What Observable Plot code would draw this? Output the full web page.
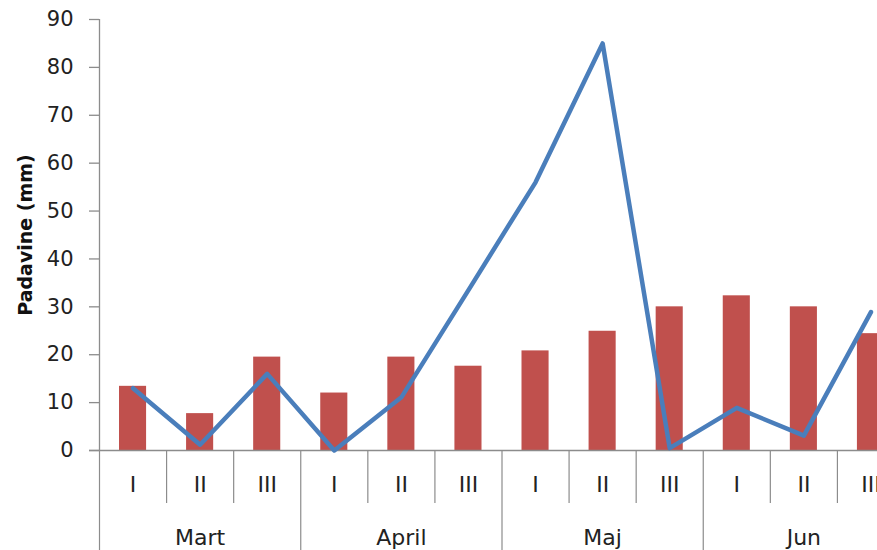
<!DOCTYPE html>
<html>
<head>
<meta charset="utf-8">
<script src="https://cdn.jsdelivr.net/npm/d3@7"></script>
<script src="https://cdn.jsdelivr.net/npm/@observablehq/plot@0.6"></script>
<style>
  html, body { margin: 0; padding: 0; background: #fff; overflow: hidden; width: 877px; height: 550px; }
  #chart { width: 877px; height: 550px; overflow: hidden; }
  #chart svg { max-width: none !important; width: 904px !important; height: 550px !important; }
</style>
</head>
<body>
<div id="chart"></div>
<script>
const months = ["Mart", "April", "Maj", "Jun"];
const decades = ["I", "II", "III"];
const barSeries = [13.4, 7.7, 19.5, 12.0, 19.5, 17.6, 20.8, 24.9, 30.0, 32.3, 30.0, 24.4];
const lineSeries = [13.0, 1.2, 16.0, 0.0, 11.1, 33.5, 56.0, 85.0, 0.5, 8.9, 3.1, 28.9];
const yTicks = [0, 10, 20, 30, 40, 50, 60, 70, 80, 90];
const yTitle = "Padavine (mm)";

const rows = months.flatMap((m, mi) => decades.map((d, di) => {
  const i = mi * decades.length + di;
  return {i, month: m, decade: d, bar: barSeries[i], line: lineSeries[i]};
}));
const monthRows = months.map((m, mi) => ({i: mi * decades.length, month: m}));
const bounds = d3.range(0, rows.length + 1);
const monthBounds = bounds.filter(b => b % decades.length === 0);
const decadeBounds = bounds.filter(b => b % decades.length !== 0);

const gray = "#8c8c8c";
const font = "DejaVu Sans";

const chart = Plot.plot({
  width: 904,
  height: 550,
  marginLeft: 99,
  marginRight: 0,
  marginTop: 19,
  marginBottom: 100,
  style: {fontFamily: font, background: "#fff", overflow: "visible"},
  x: {type: "linear", domain: [0, rows.length]},
  y: {domain: [0, 90]},
  marks: [
    Plot.rectY(rows, {x1: "i", x2: d => d.i + 1, y: "bar", fill: "#c0504d", insetLeft: 20, insetRight: 20}),
    Plot.ruleY([0], {stroke: gray, strokeWidth: 1.3, insetLeft: -10}),
    Plot.ruleX([0], {stroke: gray, strokeWidth: 1.3}),
    Plot.axisY({ticks: yTicks, tickSize: 10, tickPadding: 16, fontSize: 21, stroke: gray, fill: "#222", label: null, strokeWidth: 1.3}),
    Plot.axisX(decadeBounds, {tickSize: 53, tickFormat: () => "", stroke: gray, label: null, strokeWidth: 1.2}),
    Plot.axisX(monthBounds, {tickSize: 100, tickFormat: () => "", stroke: gray, label: null, strokeWidth: 1.2}),
    Plot.text(rows, {x: d => d.i + 0.5, text: "decade", frameAnchor: "bottom", lineAnchor: "middle", dy: 34, fontSize: 22, fill: "#222"}),
    Plot.text(monthRows, {x: d => d.i + decades.length / 2, text: "month", frameAnchor: "bottom", lineAnchor: "middle", dy: 87, fontSize: 22, fill: "#222"}),
    Plot.text([yTitle], {frameAnchor: "left", textAnchor: "middle", lineAnchor: "middle", rotate: -90, dx: -74, fontSize: 19, fontWeight: "bold", fill: "#111"}),
    Plot.line(rows, {x: d => d.i + 0.5, y: "line", stroke: "#4a7ebb", strokeWidth: 4.5, strokeLinejoin: "round", strokeLinecap: "round"})
  ]
});
document.getElementById("chart").appendChild(chart);
</script>
</body>
</html>
